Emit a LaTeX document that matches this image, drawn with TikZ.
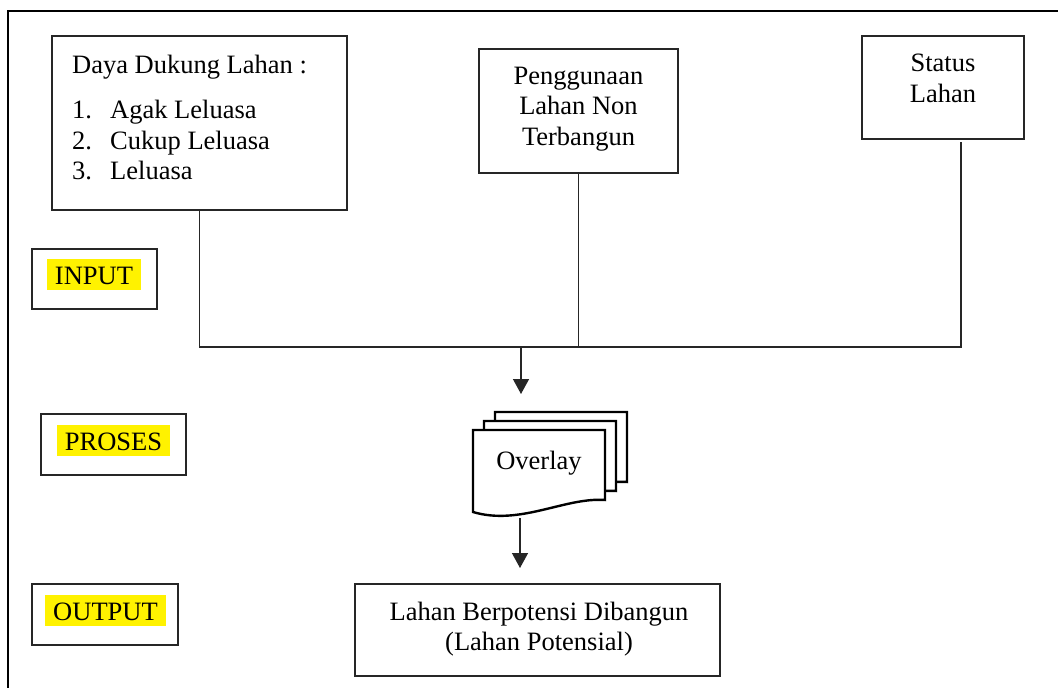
\documentclass[tikz,border=0pt]{standalone}
\usepackage{fontspec}
\setmainfont{Liberation Serif}
\usetikzlibrary{arrows.meta}
\tikzset{
  txt/.style={font=\fontsize{26.5pt}{30.5pt}\selectfont, inner sep=0pt, anchor=base},
  txtl/.style={txt, anchor=base west},
  boxr/.style={draw=black!85, line width=1.5pt, inner sep=0pt},
  hl/.style={txt, fill=yellow, inner xsep=8pt, inner ysep=0pt, text height=25pt, text depth=6pt},
  conn/.style={draw=black!85, line width=1.4pt},
  arr/.style={conn, -{Triangle[width=16pt,length=15pt]}},
  docpage/.style={draw=black, fill=white, line width=2.4pt, line join=miter},
}
\newcommand\mydocpath{(473,430) -- (605,430) -- (605,500) .. controls (565,497) and (520,526) .. (473,512) -- cycle}
\begin{document}
\begin{tikzpicture}[x=1pt,y=-1pt]
\useasboundingbox (0,0) rectangle (1058,688);
\fill[white] (0,0) rectangle (1058,688);
% frame
\draw[line width=1.6pt] (8,688) -- (8,11) -- (1058,11);

% input boxes
\node[boxr, minimum width=295pt, minimum height=174pt] (box1) at (199.5,123) {};
\node[txtl] (t1) at (72,73) {Daya Dukung Lahan :};
\node[txtl] (n1) at (72,118.5) {1.};
\node[txtl] (i1) at (110,118.5) {Agak Leluasa};
\node[txtl] (n2) at (72,149) {2.};
\node[txtl] (i2) at (110,149) {Cukup Leluasa};
\node[txtl] (n3) at (72,179.5) {3.};
\node[txtl] (i3) at (110,179.5) {Leluasa};

\node[boxr, minimum width=199pt, minimum height=124pt] (peng) at (578.5,111) {};
\node[txt] (p1) at (578.5,84) {Penggunaan};
\node[txt] (p2) at (578.5,114.5) {Lahan Non};
\node[txt] (p3) at (578.5,145) {Terbangun};

\node[boxr, minimum width=162pt, minimum height=103pt] (stat) at (943,87.5) {};
\node[txt] (s1) at (943,71.7) {Status};
\node[txt] (s2) at (943,102) {Lahan};

% side labels
\node[boxr, minimum width=125pt, minimum height=60pt] (inbox) at (94.5,279) {};
\node[hl] (intxt) at (94,284) {INPUT};
\node[boxr, minimum width=145pt, minimum height=61pt] (prbox) at (113.5,444.5) {};
\node[hl] (prtxt) at (113.5,450) {PROSES};
\node[boxr, minimum width=146pt, minimum height=61pt] (outbox) at (105,614.5) {};
\node[hl] (outtxt) at (105.5,620) {OUTPUT};

% result box
\node[boxr, minimum width=365pt, minimum height=92pt] (res) at (537.5,630) {};
\node[txt] (r1) at (539,620) {Lahan Berpotensi Dibangun};
\node[txt] (r2) at (539,650) {(Lahan Potensial)};

% overlay stack
\begin{scope}[shift={(22,-18)}]
  \draw[docpage] \mydocpath;
\end{scope}
\begin{scope}[shift={(11,-9)}]
  \draw[docpage] \mydocpath;
\end{scope}
\draw[docpage] \mydocpath;
\node[txt] (ov) at (539,469) {Overlay};

% connectors
\coordinate (hl) at (199,347);
\coordinate (hr) at (961,347);
\coordinate (sj) at (961,142);
\coordinate (j) at (521,347);
\coordinate (a1) at (521,394);
\coordinate (ob) at (520,518);
\coordinate (a2) at (520,568);
\draw[conn] (box1.south) -- (box1.south |- hl) -- (hr) -- (sj);
\draw[conn] (peng.south) -- (peng.south |- hl);
\draw[arr] (j) -- (a1);
\draw[arr] (ob) -- (a2);
\end{tikzpicture}
\end{document}
